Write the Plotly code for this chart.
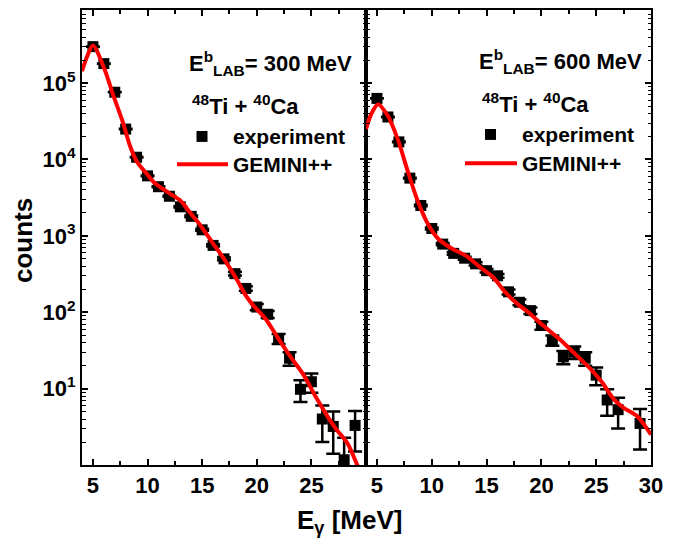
import plotly.graph_objects as go

# ---- data ----
x_300 = [5, 6, 7, 8, 9, 10, 11, 12, 13, 14, 15, 16, 17, 18, 19, 20, 21, 22, 23, 24, 25, 26, 27, 28, 29]
y_300 = [3.0e5, 1.8e5, 7.6e4, 2.5e4, 1.07e4, 6.1e3, 4.4e3, 3.3e3, 2.4e3, 1.8e3, 1.2e3, 750, 500, 320, 205,
         117, 94, 45, 25, 9.8, 12.3, 4.0, 3.2, 1.17, 3.3]
err_300 = [550, 420, 275, 160, 105, 78, 66, 57, 49, 42, 35, 27, 22, 18, 14, 11, 9.7, 6.7, 5.0, 3.1, 3.5,
           2.0, 1.8, 1.1, 1.8]

x_600 = [5, 6, 7, 8, 9, 10, 11, 12, 13, 14, 15, 16, 17, 18, 19, 20, 21, 22, 23, 24, 25, 26, 27, 29]
y_600 = [6.3e4, 3.6e4, 1.7e4, 5.7e3, 2.5e3, 1.25e3, 780, 590, 510, 430, 350, 300, 185, 135, 105, 67, 43,
         26, 30, 25, 15, 7.1, 5.3, 3.5]
err_600 = [250, 190, 130, 75, 50, 35, 28, 24, 23, 21, 19, 17, 14, 12, 10, 8.2, 6.6, 5.1, 5.5, 5.0, 3.9,
           2.7, 2.3, 1.9]

gem_x_300 = [4.0, 4.45, 5.0, 6.0, 6.9, 7.7, 8.4, 9.0, 10.0, 10.6, 11.2, 12.0, 13.0, 13.9, 14.8, 15.9,
             17.0, 18.2, 19.0, 19.8, 20.8, 21.9, 23.1, 24.3, 25.4, 26.4, 27.3, 28.3, 29.2, 30.0]
gem_y_300 = [1.43e5, 2.2e5, 3.1e5, 1.6e5, 6.7e4, 3.2e4, 1.5e4, 9.5e3, 6.3e3, 5.0e3, 4.3e3, 3.6e3, 2.9e3,
             2.0e3, 1.4e3, 830, 500, 265, 165, 117, 82, 47, 26, 15, 7.8, 4.5, 2.9, 1.93, 1.0, 0.55]

gem_x_600 = [4.0, 4.5, 5.1, 6.0, 6.9, 7.8, 8.7, 9.65, 10.6, 11.9, 13.1, 14.4, 15.6, 16.7, 17.8, 19.0, 20.0,
             21.0, 21.7, 22.9, 24.5, 25.5, 26.6, 27.5, 28.7, 30.0]
gem_y_600 = [2.5e4, 4.0e4, 5.3e4, 3.7e4, 1.83e4, 7.1e3, 2.9e3, 1.43e3, 910, 673, 550, 390, 287, 183, 129,
             95, 70, 53, 44, 30, 18, 12.3, 7.3, 5.6, 4.4, 2.5]

y_tickvals = [10, 100, 1000, 1e4, 1e5]
y_ticktext = ["10<sup>1</sup>", "10<sup>2</sup>", "10<sup>3</sup>", "10<sup>4</sup>", "10<sup>5</sup>"]
x_tickvals = [5, 10, 15, 20, 25, 30]
x_ticktext_left = ["5", "10", "15", "20", "25", ""]
x_ticktext_right = ["5", "10", "15", "20", "25", "30"]
x_minor_vals = [7.5, 12.5, 17.5, 22.5, 27.5]

FONT = "Liberation Sans, Arial, sans-serif"
RED = "#ff0000"

# plot area in pixels
L, R, T, B = 82, 651, 8, 465
W, H = R - L, B - T
def px(xp):
    return (xp - L) / W
def py(yp):
    return (B - yp) / H

fig = go.Figure()

def add_panel(xd, yd, ed, gx, gy, xa, ya):
    fig.add_trace(go.Scatter(
        x=xd, y=yd, mode="markers", name="experiment", showlegend=False,
        marker=dict(symbol="square", size=11, color="black"),
        error_y=dict(type="data", array=ed, visible=True, color="black", thickness=2.5, width=7),
        xaxis=xa, yaxis=ya))
    fig.add_trace(go.Scatter(
        x=gx, y=gy, mode="lines", name="GEMINI++", showlegend=False,
        line=dict(color=RED, width=4, shape="spline", smoothing=0.8),
        xaxis=xa, yaxis=ya))

add_panel(x_300, y_300, err_300, gem_x_300, gem_y_300, "x", "y")
add_panel(x_600, y_600, err_600, gem_x_600, gem_y_600, "x2", "y2")

tickfont = dict(family=FONT, size=22, color="black", weight="bold")
common_x = dict(range=[4, 30], showline=True, linewidth=2, linecolor="black", mirror="ticks",
                ticks="inside", ticklen=6, tickwidth=1.5, tickcolor="black", showgrid=False,
                zeroline=False, tickmode="array", tickvals=x_tickvals, tickfont=tickfont,
                minor=dict(tickmode="array", tickvals=x_minor_vals, ticks="inside",
                           ticklen=4, tickwidth=1.5, tickcolor="black", showgrid=False))
common_y = dict(type="log", range=[0.0, 5.957], showline=True, linewidth=2, linecolor="black",
                mirror="ticks", ticks="inside", ticklen=6, tickwidth=1.5, tickcolor="black",
                showgrid=False, zeroline=False, tickmode="array", tickvals=y_tickvals,
                ticktext=y_ticktext, tickfont=tickfont,
                minor=dict(dtick="D1", ticks="inside", ticklen=3.5, tickwidth=1, tickcolor="black",
                           showgrid=False))

split = px(366)
fig.update_layout(
    width=689, height=542,
    margin=dict(l=L, r=689 - R, t=T, b=542 - B),
    paper_bgcolor="white", plot_bgcolor="white",
    xaxis=dict(domain=[0, split], ticktext=x_ticktext_left, anchor="y", **common_x),
    xaxis2=dict(domain=[split, 1], ticktext=x_ticktext_right, anchor="y2", **common_x),
    yaxis=dict(domain=[0, 1], anchor="x", **common_y),
    yaxis2=dict(domain=[0, 1], anchor="x2", showticklabels=False, **common_y),
    showlegend=False,
)

ann_font = dict(family=FONT, size=22, color="black", weight="bold")
leg_font = dict(family=FONT, size=21, color="black", weight="bold")

def text(t, x, y, xanchor, font, angle=0):
    fig.add_annotation(text=t, xref="paper", yref="paper", x=px(x), y=py(y),
                       xanchor=xanchor, yanchor="middle", showarrow=False, font=font,
                       textangle=angle, borderpad=0)

# panel labels
text("E<sup>b</sup><sub>LAB</sub>= 300 MeV", 353, 62, "right", ann_font)
text("<sup>48</sup>Ti + <sup>40</sup>Ca", 246, 103, "center", ann_font)
text("E<sup>b</sup><sub>LAB</sub>= 600 MeV", 643, 60, "right", ann_font)
text("<sup>48</sup>Ti + <sup>40</sup>Ca", 535, 101, "center", ann_font)

# legends (drawn keys)
def legend(sq_x, sq_y, line_x0, line_x1, line_y, text_x):
    s = 5.5
    fig.add_shape(type="rect", xref="paper", yref="paper",
                  x0=px(sq_x - s), x1=px(sq_x + s), y0=py(sq_y + s), y1=py(sq_y - s),
                  fillcolor="black", line=dict(width=0))
    fig.add_shape(type="line", xref="paper", yref="paper",
                  x0=px(line_x0), x1=px(line_x1), y0=py(line_y), y1=py(line_y),
                  line=dict(color=RED, width=4))
    text("experiment", text_x, sq_y, "left", leg_font)
    text("GEMINI++", text_x, line_y, "left", leg_font)

legend(202, 135, 177, 228, 163, 232)
legend(490.5, 133, 465, 517, 162, 521)

# axis titles
text("E<sub>γ</sub> [MeV]", 349, 522, "center", dict(family=FONT, size=26, color="black", weight="bold"))
text("counts", 23, 240, "center", dict(family=FONT, size=26, color="black", weight="bold"), angle=-90)

fig.write_html("out.html")
